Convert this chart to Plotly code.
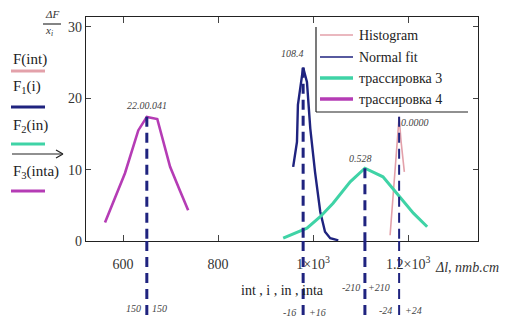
import plotly.graph_objects as go

# ---------------- data ----------------
hist_x = [1162, 1177, 1181, 1185, 1192]
hist_y = [0.8, 13.5, 17.4, 14.0, 9.7]

fit_x = [958, 966, 968, 979, 987, 994, 1004, 1015, 1025, 1036, 1053]
fit_y = [10.4, 13.9, 19.1, 24.3, 22.3, 15.8, 9.7, 4.1, 1.3, 0.4, 0.1]

tr3_x = [937, 987, 1015, 1042, 1078, 1109, 1147, 1183, 1211, 1240]
tr3_y = [0.4, 1.8, 3.4, 5.3, 8.3, 10.2, 9.0, 6.2, 3.9, 2.0]

tr4_x = [562, 580, 604, 632, 650, 672, 699, 720, 737]
tr4_y = [2.6, 5.5, 9.5, 15.5, 17.4, 17.1, 10.4, 7.0, 4.3]

peak_x = [650, 979, 1109, 1181]
peak_y = [17.4, 24.3, 10.2, 17.4]
peak_labels = ["22.00.041", "108.4", "0.528", "0.0000"]
bound_left = ["150", "-16", "-210", "-24"]
bound_right = ["150", "+16", "+210", "+24"]

x_ticks = [600, 800, 1000, 1200]
x_ticktext = ["600", "800", "1×10<sup>3</sup>", "1.2×10<sup>3</sup>"]
y_ticks = [0, 10, 20, 30]

legend_names = ["Histogram", "Normal fit", "трассировка 3", "трассировка 4"]
left_names = ["F(int)", "F<sub>1</sub>(i)", "F<sub>2</sub>(in)", "F<sub>3</sub>(inta)"]

# ---------------- styles ----------------
C_PINK = "#e3a1aa"
C_NAVY = "#1f237f"
C_GREEN = "#3fd3a6"
C_MAG = "#b53cb5"
SERIF = "Liberation Serif"

W, H = 511, 320
L, R, T, B = 86, 478, 17, 241


def px(xp):
    return (xp - L) / (R - L)


def py(yp):
    return (B - yp) / (B - T)


fig = go.Figure()
fig.add_trace(go.Scatter(x=hist_x, y=hist_y, mode="lines", name=legend_names[0],
                         line=dict(color=C_PINK, width=1.6)))
fig.add_trace(go.Scatter(x=fit_x, y=fit_y, mode="lines", name=legend_names[1],
                         line=dict(color=C_NAVY, width=2.4)))
fig.add_trace(go.Scatter(x=tr3_x, y=tr3_y, mode="lines", name=legend_names[2],
                         line=dict(color=C_GREEN, width=3)))
fig.add_trace(go.Scatter(x=tr4_x, y=tr4_y, mode="lines", name=legend_names[3],
                         line=dict(color=C_MAG, width=2.6)))

shapes = []
annotations = []
bottom_paper = py(318)
lab_y = [py(105), py(54), py(158), py(122)]
lab_dx = [0, -11, -4, 16]
bnd_y = [py(308), py(312), py(287), py(310)]
bnd_off = [13, 14, 14, 14]
for i, (xv, yv) in enumerate(zip(peak_x, peak_y)):
    wdt = 3 if i < 3 else 2
    shapes.append(dict(type="line", xref="x", yref="y", x0=xv, x1=xv, y0=yv, y1=0,
                       line=dict(color=C_NAVY, width=wdt, dash="10px,6px")))
    shapes.append(dict(type="line", xref="x", yref="paper", x0=xv, x1=xv, y0=0,
                       y1=bottom_paper, line=dict(color=C_NAVY, width=wdt, dash="10px,6px")))
    annotations.append(dict(x=xv, y=lab_y[i], xref="x", yref="paper", text="<i>%s</i>" % peak_labels[i],
                            showarrow=False, xshift=lab_dx[i],
                            font=dict(family=SERIF, size=10, color="#444"),
                            xanchor="center", yanchor="middle"))
    annotations.append(dict(x=xv, y=bnd_y[i], xref="x", yref="paper", text="<i>%s</i>" % bound_left[i],
                            showarrow=False, xshift=-bnd_off[i],
                            font=dict(family=SERIF, size=10, color="#444"),
                            xanchor="center", yanchor="middle"))
    annotations.append(dict(x=xv, y=bnd_y[i], xref="x", yref="paper", text="<i>%s</i>" % bound_right[i],
                            showarrow=False, xshift=bnd_off[i],
                            font=dict(family=SERIF, size=10, color="#444"),
                            xanchor="center", yanchor="middle"))

# manual legend box (left + bottom border)
shapes.append(dict(type="line", xref="paper", yref="paper", x0=px(316), x1=px(316),
                   y0=py(27), y1=py(112), line=dict(color="#222", width=1.2)))
shapes.append(dict(type="line", xref="paper", yref="paper", x0=px(316), x1=px(468),
                   y0=py(112), y1=py(112), line=dict(color="#222", width=1.2)))
leg_colors = [C_PINK, C_NAVY, C_GREEN, C_MAG]
leg_widths = [1.6, 1.6, 3.5, 3.5]
leg_rows = [35, 57, 78, 99]
for name, c, w, r in zip(legend_names, leg_colors, leg_widths, leg_rows):
    shapes.append(dict(type="line", xref="paper", yref="paper", x0=px(320), x1=px(353),
                       y0=py(r), y1=py(r), line=dict(color=c, width=w)))
    annotations.append(dict(x=px(357), y=py(r), xref="paper", yref="paper", text=name,
                            showarrow=False, xanchor="left", yanchor="middle",
                            font=dict(family=SERIF, size=14, color="#222")))

# left-side function labels
left_text_y = [59, 87, 126, 172]
left_line_y = [71, 107, 144, 191]
for name, c, ty, ly in zip(left_names, leg_colors, left_text_y, left_line_y):
    annotations.append(dict(x=px(11), y=py(ty), xref="paper", yref="paper", text=name,
                            showarrow=False, xanchor="left", yanchor="middle",
                            font=dict(family=SERIF, size=15, color="#222")))
    shapes.append(dict(type="line", xref="paper", yref="paper", x0=px(11), x1=px(45),
                       y0=py(ly), y1=py(ly), line=dict(color=c, width=3)))
# arrow
shapes.append(dict(type="line", xref="paper", yref="paper", x0=px(12), x1=px(62),
                   y0=py(154), y1=py(154), line=dict(color="#222", width=1.2)))
shapes.append(dict(type="path", xref="paper", yref="paper",
                   path="M %f %f L %f %f M %f %f L %f %f" % (px(56), py(150), px(63), py(154),
                                                              px(56), py(158), px(63), py(154)),
                   line=dict(color="#222", width=1.2)))

# y-axis title fraction
annotations.append(dict(x=px(52), y=py(14), xref="paper", yref="paper", text="<i>ΔF</i>",
                        showarrow=False, xanchor="center", yanchor="middle",
                        font=dict(family=SERIF, size=11, color="#333")))
shapes.append(dict(type="line", xref="paper", yref="paper", x0=px(43), x1=px(61),
                   y0=py(24), y1=py(24), line=dict(color="#333", width=1.2)))
annotations.append(dict(x=px(49), y=py(31), xref="paper", yref="paper", text="<i>x<sub>i</sub></i>",
                        showarrow=False, xanchor="center", yanchor="middle",
                        font=dict(family=SERIF, size=11, color="#333")))

# x-axis unit and variable names
annotations.append(dict(x=px(433), y=py(267), xref="paper", yref="paper", text="<i>Δl, nmb.cm</i>",
                        showarrow=False, xanchor="left", yanchor="middle",
                        font=dict(family=SERIF, size=14, color="#333")))
annotations.append(dict(x=px(282), y=py(290), xref="paper", yref="paper", text="int , i , in , inta",
                        showarrow=False, xanchor="center", yanchor="middle",
                        font=dict(family=SERIF, size=14, color="#222")))

fig.update_layout(
    width=W, height=H,
    margin=dict(l=L, r=W - R, t=T, b=H - B),
    paper_bgcolor="white", plot_bgcolor="white",
    showlegend=False,
    shapes=shapes, annotations=annotations,
    xaxis=dict(range=[522, 1347], tickvals=x_ticks, ticktext=x_ticktext,
               showgrid=False, zeroline=False, showline=True, linecolor="#222", linewidth=1.3,
               ticks="inside", ticklen=6, tickcolor="#444", mirror="ticks",
               ticklabelstandoff=10,
               tickfont=dict(family=SERIF, size=14, color="#333")),
    yaxis=dict(range=[0, 31.4], tickvals=y_ticks,
               showgrid=False, zeroline=False, showline=True, linecolor="#222", linewidth=1.3,
               ticks="inside", ticklen=5, tickcolor="#444", mirror="ticks",
               tickfont=dict(family=SERIF, size=14, color="#333")),
)

fig.write_html("out.html", config={"displayModeBar": False},
               post_script="document.body.style.margin='0';document.body.style.padding='0';")
